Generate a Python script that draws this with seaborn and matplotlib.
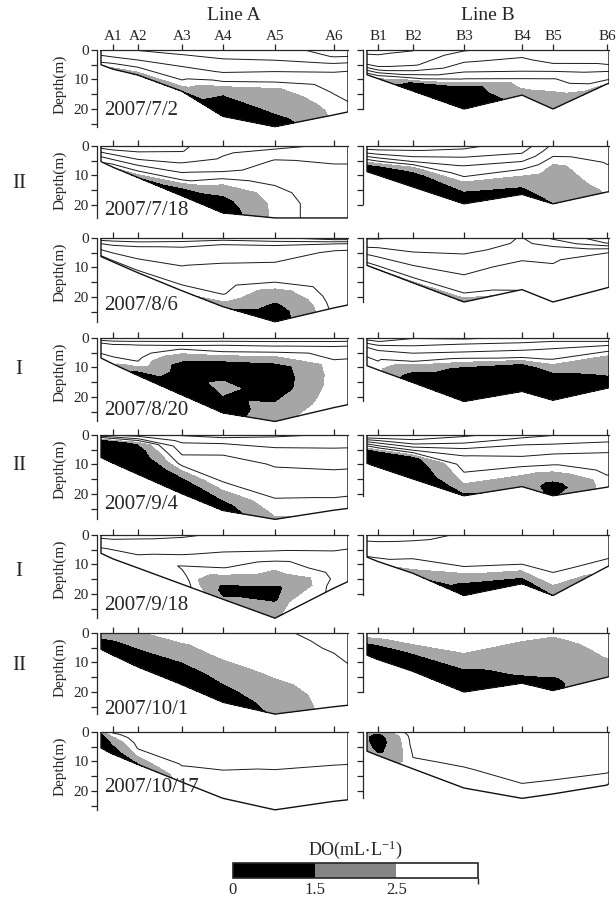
import numpy as np
import matplotlib
matplotlib.use('Agg')
import matplotlib.pyplot as plt
import seaborn as sns
from matplotlib.colors import ListedColormap, BoundaryNorm
from matplotlib.cm import ScalarMappable

dates = ['2007/7/2', '2007/7/18', '2007/8/6', '2007/8/20',
         '2007/9/4', '2007/9/18', '2007/10/1', '2007/10/17']
groups = ['', 'II', '', 'I', 'II', 'I', 'II', '']

names_a = ['A1', 'A2', 'A3', 'A4', 'A5', 'A6']
names_b = ['B1', 'B2', 'B3', 'B4', 'B5', 'B6']
dist_a = [12, 37, 81, 122, 174, 233]
dist_b = [11, 46, 97, 155, 186, 240]
len_a = 247
len_b = 242

# fraction of local water depth for each profile level
sigma = [0, 0.1, 0.2, 0.35, 0.5, 0.65, 0.8, 0.9, 1.0]

# water depth (m): section start, 6 stations, section end
bottom_a = [
    [5.0, 6.5, 8.5, 14.0, 22.5, 26.0, 22.0, 21.0],
    [5.3, 7.2, 10.7, 16.9, 22.7, 24.4, 24.4, 24.4],
    [6.3, 8.1, 11.8, 17.9, 23.3, 28.4, 23.7, 22.7],
    [6.8, 8.8, 12.7, 19.3, 25.4, 28.3, 23.6, 22.6],
    [7.6, 9.5, 13.3, 19.9, 25.6, 28.6, 25.5, 24.9],
    [6.2, 8.1, 11.2, 16.7, 21.8, 28.2, 18.0, 15.8],
    [5.5, 7.5, 11.5, 17.5, 23.5, 27.5, 25.0, 24.5],
    [5.4, 7.5, 11.0, 17.0, 22.5, 26.4, 23.5, 23.0],
]
bottom_b = [
    [8.4, 9.7, 13.9, 20.0, 15.3, 20.0, 11.5, 11.4],
    [8.7, 9.9, 13.9, 19.6, 16.4, 19.6, 15.6, 15.5],
    [9.3, 10.7, 15.2, 21.7, 17.5, 21.7, 16.9, 16.7],
    [9.4, 10.8, 15.1, 21.5, 18.1, 21.1, 17.0, 16.9],
    [9.6, 10.9, 14.9, 20.6, 17.5, 20.6, 17.7, 17.5],
    [7.5, 9.0, 13.0, 20.5, 16.5, 20.5, 10.8, 10.5],
    [7.5, 9.0, 13.0, 20.0, 17.0, 19.5, 15.0, 14.8],
    [6.5, 8.0, 12.5, 19.0, 22.5, 21.0, 18.0, 17.5],
]

# DO profiles (mL/L), surface -> bottom, one per column
a_0702 = [[5.0, 4.8, 4.5, 4.05, 3.5, 3.2, 3.05, 2.8, 2.6],
          [5.05, 4.8, 4.5, 4.05, 3.5, 3.1, 2.8, 2.4, 1.8],
          [5.05, 4.8, 4.6, 4.2, 3.6, 3.1, 2.7, 2.2, 1.4],
          [5.2, 5.05, 4.6, 4.2, 3.6, 3.2, 2.8, 2.2, 1.2],
          [5.5, 5.2, 4.6, 3.95, 2.8, 1.6, 0.95, 0.8, 0.6],
          [5.5, 5.2, 4.6, 3.5, 2.4, 1.95, 1.6, 1.2, 0.8],
          [6.5, 6.05, 5.05, 3.95, 3.3, 3.05, 2.8, 2.7, 2.65],
          [6.5, 6.05, 5.05, 3.95, 3.5, 3.2, 3.05, 2.9, 2.8]]
a_0718 = [[6.5, 6.2, 5.8, 5.2, 4.6, 4.1, 3.7, 3.4, 3.2],
          [6.5, 6.3, 5.95, 5.2, 4.6, 3.95, 3.3, 2.8, 2.3],
          [6.5, 6.3, 5.95, 5.4, 4.6, 3.8, 2.95, 2.3, 1.2],
          [6.2, 6.05, 5.6, 4.95, 4.2, 3.3, 1.8, 0.95, 0.7],
          [5.2, 5.1, 4.9, 4.3, 2.9, 1.95, 1.2, 0.9, 0.7],
          [5.3, 4.6, 3.95, 3.5, 3.1, 2.8, 2.7, 2.7, 2.7],
          [4.8, 4.4, 4.1, 3.8, 3.6, 3.5, 3.4, 3.4, 3.4],
          [4.8, 4.4, 4.1, 3.8, 3.6, 3.5, 3.4, 3.4, 3.4]]
a_0806 = [[7.1, 6.2, 5.5, 4.8, 4.3, 3.95, 3.6, 3.2, 2.8],
          [7.1, 6.2, 5.5, 4.8, 4.3, 3.95, 3.6, 3.2, 2.8],
          [7.1, 6.1, 5.2, 4.6, 4.2, 3.9, 3.5, 3.1, 2.8],
          [6.8, 5.6, 4.8, 4.3, 4.05, 3.8, 3.4, 2.95, 2.7],
          [6.5, 4.95, 4.4, 4.05, 3.6, 3.3, 3.1, 2.6, 1.6],
          [6.8, 4.8, 4.3, 3.8, 3.2, 2.1, 1.3, 0.9, 0.8],
          [7.8, 4.5, 3.9, 3.7, 3.6, 3.5, 3.4, 3.3, 3.2],
          [7.8, 4.5, 3.9, 3.7, 3.6, 3.5, 3.4, 3.3, 3.2]]
a_0820 = [[5.8, 5.2, 4.2, 3.6, 3.4, 3.2, 2.95, 2.9, 2.8],
          [5.8, 5.2, 4.2, 3.6, 3.3, 3.1, 2.9, 2.7, 2.6],
          [5.8, 4.9, 3.9, 3.5, 3.2, 2.95, 2.2, 1.3, 0.9],
          [5.8, 4.5, 2.95, 1.8, 0.95, 0.9, 0.8, 0.8, 0.8],
          [5.8, 3.95, 2.8, 0.95, 1.2, 1.8, 1.4, 0.95, 0.8],
          [5.8, 3.95, 2.6, 0.95, 0.8, 0.9, 1.6, 1.95, 2.3],
          [5.8, 4.2, 3.3, 2.9, 2.8, 2.8, 2.8, 2.8, 2.8],
          [5.8, 4.2, 3.3, 2.9, 2.8, 2.8, 2.8, 2.8, 2.8]]
a_0904 = [[5.1, 3.2, 1.2, 0.8, 0.7, 0.6, 0.6, 0.6, 0.6],
          [5.1, 3.5, 1.4, 0.8, 0.7, 0.6, 0.6, 0.6, 0.6],
          [5.5, 3.95, 1.6, 0.95, 0.8, 0.7, 0.6, 0.6, 0.6],
          [6.1, 5.2, 4.6, 3.95, 3.2, 1.95, 0.95, 0.8, 0.7],
          [6.5, 5.1, 4.4, 3.5, 3.2, 2.95, 1.95, 1.2, 0.9],
          [6.2, 5.3, 4.7, 4.1, 3.6, 3.2, 2.9, 2.7, 2.3],
          [5.9, 5.3, 4.9, 4.3, 3.9, 3.4, 3.05, 2.9, 2.8],
          [5.9, 5.3, 4.9, 4.3, 3.9, 3.4, 3.05, 2.9, 2.8]]
a_0918 = [[5.3, 5.2, 4.95, 4.6, 4.2, 4.05, 3.9, 3.8, 3.7],
          [5.3, 5.2, 4.95, 4.6, 4.2, 3.95, 3.8, 3.7, 3.6],
          [5.2, 5.05, 4.8, 4.5, 4.2, 3.9, 3.6, 3.5, 3.4],
          [5.1, 4.9, 4.6, 4.2, 3.6, 2.9, 3.2, 3.4, 3.4],
          [4.9, 4.7, 4.3, 3.6, 3.05, 2.3, 1.3, 1.2, 1.6],
          [4.8, 4.5, 3.95, 2.7, 2.2, 1.2, 1.4, 2.3, 2.4],
          [4.7, 4.4, 4.2, 3.9, 3.6, 3.3, 3.1, 3.1, 3.1],
          [4.7, 4.4, 4.2, 3.9, 3.6, 3.3, 3.1, 3.1, 3.1]]
a_1001 = [[2.2, 1.95, 1.8, 1.4, 0.95, 0.8, 0.7, 0.6, 0.6],
          [2.3, 2.1, 1.8, 1.4, 0.95, 0.8, 0.7, 0.6, 0.6],
          [2.4, 2.2, 1.95, 1.7, 1.4, 0.95, 0.8, 0.7, 0.6],
          [2.85, 2.7, 2.45, 2.2, 1.7, 1.2, 0.9, 0.8, 0.7],
          [2.9, 2.8, 2.7, 2.55, 2.2, 1.7, 1.3, 0.95, 0.9],
          [2.9, 2.85, 2.8, 2.7, 2.6, 2.3, 1.95, 1.8, 1.6],
          [3.2, 3.1, 3.05, 2.95, 2.9, 2.9, 2.9, 2.9, 2.9],
          [3.3, 3.2, 3.1, 3.05, 2.95, 2.9, 2.9, 2.9, 2.9]]
a_1017 = [[1.95, 1.3, 0.95, 0.8, 0.7, 0.6, 0.6, 0.6, 0.6],
          [3.2, 2.8, 2.4, 1.95, 1.6, 1.3, 0.95, 0.8, 0.7],
          [3.6, 3.5, 3.4, 3.2, 3.05, 2.7, 2.3, 1.7, 1.2],
          [3.8, 3.7, 3.6, 3.4, 3.2, 3.02, 2.9, 2.8, 2.7],
          [3.8, 3.7, 3.6, 3.4, 3.1, 2.9, 2.8, 2.75, 2.7],
          [3.9, 3.8, 3.6, 3.4, 2.95, 2.9, 2.8, 2.75, 2.7],
          [3.9, 3.8, 3.6, 3.3, 2.95, 2.85, 2.8, 2.75, 2.7],
          [3.9, 3.8, 3.6, 3.3, 2.95, 2.85, 2.8, 2.75, 2.7]]

b_0702 = [[7.2, 7.1, 6.95, 6.8, 6.5, 5.5, 4.2, 3.2, 2.6],
          [7.2, 7.1, 6.95, 6.8, 6.5, 5.5, 3.95, 2.95, 2.2],
          [7.05, 6.8, 6.6, 6.2, 5.05, 3.5, 1.2, 0.8, 0.6],
          [6.1, 5.5, 5.05, 4.2, 2.9, 0.8, 0.6, 0.5, 0.5],
          [5.6, 5.2, 4.9, 4.4, 3.9, 2.9, 2.6, 2.2, 1.9],
          [5.8, 5.5, 5.2, 4.1, 2.9, 2.6, 2.2, 1.95, 1.8],
          [5.8, 5.6, 5.4, 5.2, 4.8, 3.9, 3.4, 2.9, 2.3],
          [5.8, 5.6, 5.4, 5.2, 4.8, 3.9, 3.4, 2.9, 2.3]]
b_0718 = [[6.5, 6.2, 5.5, 4.5, 3.2, 1.95, 0.95, 0.8, 0.7],
          [6.5, 6.2, 5.6, 4.5, 3.2, 1.6, 0.9, 0.7, 0.6],
          [6.3, 6.05, 5.4, 4.4, 2.4, 1.3, 0.8, 0.7, 0.6],
          [6.2, 5.8, 4.95, 3.95, 3.2, 2.2, 1.4, 0.9, 0.7],
          [5.6, 5.2, 4.8, 3.8, 2.9, 2.3, 1.7, 1.2, 0.9],
          [3.8, 3.4, 2.9, 2.3, 2.2, 2.1, 1.95, 1.8, 1.4],
          [3.6, 3.4, 3.2, 3.05, 2.9, 2.8, 2.7, 2.6, 2.55],
          [3.6, 3.4, 3.2, 3.05, 2.9, 2.8, 2.7, 2.6, 2.55]]
b_0806 = [[6.1, 5.8, 5.6, 4.95, 4.2, 3.9, 3.6, 2.95, 2.3],
          [6.1, 5.8, 5.5, 4.8, 4.2, 3.9, 3.5, 2.9, 2.2],
          [5.8, 5.6, 5.3, 4.9, 4.3, 3.9, 3.5, 2.9, 2.1],
          [5.5, 5.4, 5.2, 4.6, 4.2, 3.8, 3.3, 2.8, 1.4],
          [4.95, 4.9, 4.7, 4.3, 3.8, 3.5, 3.3, 3.2, 3.1],
          [6.2, 5.2, 4.6, 4.1, 3.8, 3.6, 3.4, 3.3, 3.2],
          [7.6, 7.05, 5.2, 3.4, 3.3, 3.3, 3.2, 3.2, 3.1],
          [7.6, 7.05, 5.2, 3.4, 3.3, 3.3, 3.2, 3.2, 3.1]]
b_0820 = [[6.5, 5.8, 4.95, 3.95, 3.3, 3.05, 2.8, 2.7, 2.6],
          [6.5, 6.05, 5.2, 4.2, 3.5, 3.1, 2.9, 2.7, 2.6],
          [6.05, 5.6, 4.8, 3.95, 3.2, 1.95, 1.3, 0.95, 0.8],
          [6.2, 4.95, 4.2, 2.7, 0.95, 0.8, 0.7, 0.6, 0.5],
          [5.8, 4.9, 4.2, 3.2, 1.2, 0.8, 0.6, 0.5, 0.5],
          [5.6, 4.5, 3.8, 2.95, 1.8, 0.9, 0.7, 0.6, 0.5],
          [6.05, 4.5, 3.5, 2.4, 2.1, 1.8, 1.3, 0.9, 0.8],
          [6.05, 4.5, 3.5, 2.4, 2.1, 1.8, 1.3, 0.9, 0.8]]
b_0904 = [[7.5, 7.05, 5.5, 3.5, 1.2, 0.9, 0.8, 0.7, 0.6],
          [7.5, 7.05, 5.6, 3.8, 1.4, 0.9, 0.8, 0.7, 0.6],
          [7.5, 7.05, 6.05, 3.95, 1.2, 0.8, 0.7, 0.6, 0.6],
          [7.2, 6.4, 5.2, 3.95, 3.3, 2.9, 2.45, 1.8, 1.2],
          [6.5, 5.6, 4.95, 4.3, 3.6, 2.8, 2.4, 2.2, 1.95],
          [6.05, 5.4, 4.6, 3.8, 2.95, 2.2, 1.2, 0.9, 1.3],
          [5.8, 5.2, 4.6, 3.95, 3.4, 3.2, 2.95, 2.9, 2.8],
          [5.8, 5.2, 4.6, 3.95, 3.4, 3.2, 2.95, 2.9, 2.8]]
b_0918 = [[4.5, 4.3, 4.1, 3.9, 3.6, 3.4, 3.2, 3.1, 2.95],
          [4.5, 4.3, 4.1, 3.8, 3.5, 3.3, 3.1, 2.95, 2.9],
          [4.3, 4.1, 3.9, 3.6, 3.2, 2.95, 2.8, 2.4, 1.6],
          [3.9, 3.8, 3.6, 3.4, 3.1, 2.4, 1.4, 1.2, 1.1],
          [3.8, 3.7, 3.6, 3.4, 3.2, 2.9, 1.95, 1.3, 1.2],
          [3.8, 3.7, 3.6, 3.4, 3.2, 2.95, 2.6, 1.95, 1.4],
          [3.8, 3.7, 3.6, 3.4, 3.2, 3.1, 2.95, 2.9, 2.8],
          [3.8, 3.7, 3.6, 3.4, 3.2, 3.1, 2.95, 2.9, 2.8]]
b_1001 = [[2.9, 2.7, 2.4, 1.8, 1.3, 0.95, 0.8, 0.7, 0.6],
          [2.9, 2.7, 2.4, 1.8, 1.3, 0.95, 0.8, 0.7, 0.6],
          [2.95, 2.85, 2.7, 2.3, 1.6, 1.1, 0.8, 0.7, 0.6],
          [2.95, 2.9, 2.8, 2.45, 1.95, 1.3, 0.9, 0.8, 0.7],
          [2.8, 2.6, 2.4, 2.2, 1.95, 1.8, 1.6, 1.3, 1.1],
          [2.6, 2.4, 2.2, 1.95, 1.9, 1.7, 1.4, 1.3, 1.3],
          [2.95, 2.9, 2.8, 2.7, 2.55, 2.4, 2.3, 2.2, 2.2],
          [2.95, 2.9, 2.8, 2.7, 2.55, 2.4, 2.3, 2.2, 2.2]]
b_1017 = [[2.0, 1.7, 1.6, 1.6, 1.6, 1.7, 1.8, 2.0, 2.3],
          [1.8, 1.2, 0.95, 0.9, 0.95, 1.1, 1.2, 1.4, 1.9],
          [3.4, 3.3, 3.25, 3.2, 3.1, 3.02, 2.95, 2.9, 2.85],
          [3.5, 3.45, 3.4, 3.3, 3.1, 2.98, 2.9, 2.85, 2.8],
          [3.5, 3.45, 3.4, 3.3, 3.2, 3.1, 2.98, 2.9, 2.85],
          [3.5, 3.45, 3.4, 3.3, 3.2, 3.1, 2.98, 2.9, 2.85],
          [3.5, 3.45, 3.4, 3.3, 3.2, 3.1, 2.98, 2.9, 2.85],
          [3.5, 3.45, 3.4, 3.3, 3.2, 3.1, 2.98, 2.9, 2.85]]

do_a = [a_0702, a_0718, a_0806, a_0820, a_0904, a_0918, a_1001, a_1017]
do_b = [b_0702, b_0718, b_0806, b_0820, b_0904, b_0918, b_1001, b_1017]

fill_levels = [0, 1.5, 2.5, 20]
line_levels = [3, 4, 5, 6, 7]
fill_colors = ['black', '#a6a6a6', 'white']

sns.set_theme(style='ticks')
plt.rcParams['font.family'] = ['Liberation Serif', 'DejaVu Serif']
plt.rcParams['mathtext.fontset'] = 'stix'
plt.rcParams['axes.linewidth'] = 0.9
plt.rcParams['xtick.major.width'] = 0.9
plt.rcParams['ytick.major.width'] = 0.9
plt.rcParams['ytick.minor.width'] = 0.9

W, H = 616, 901
row_top = [50, 146, 238, 338, 435, 535, 633, 732]
date_y = [0.24, 0.19, 0.16, 0.10, 0.13, 0.12, 0.05, 0.30]
group_y = [0, 183, 0, 369, 466, 572, 665, 0]
ymax = 29
ax_h = 85.5


def section(ax, dist, length, bottom, prof, names, first, left):
    xs = np.array([0] + dist + [length], dtype=float)
    x = np.tile(xs, (len(sigma), 1))
    z = np.outer(sigma, bottom)
    v = np.array(prof).T
    ax.contourf(x, z, v, levels=fill_levels, colors=fill_colors)
    ax.contour(x, z, v, levels=line_levels, colors='#1a1a1a', linewidths=0.7)
    ox = [0] + list(xs) + [length, 0]
    oy = [0] + list(bottom) + [0, 0]
    sns.lineplot(x=ox, y=oy, sort=False, estimator=None, color='#111111',
                 linewidth=1.0, ax=ax)
    ax.set_xlim(-4, length)
    ax.set_ylim(ymax, 0)
    ax.spines['bottom'].set_visible(False)
    ax.spines['right'].set_visible(False)
    ax.spines['top'].set_bounds(0, length)
    ax.spines['left'].set_bounds(0, max(bottom))
    ax.xaxis.tick_top()
    ax.set_xticks(dist)
    ax.set_xticklabels(names if first else [])
    ax.set_yticks([0, 10, 20])
    ax.set_yticks([t for t in [5, 15, 25] if t <= max(bottom)], minor=True)
    ax.set_yticklabels(['0', '10', '20'] if left else [])
    ax.tick_params(axis='x', direction='out', length=4, pad=1, labelsize=11)
    ax.tick_params(axis='y', which='both', direction='out', length=4, pad=2,
                   labelsize=11)
    ax.set_xlabel('')
    ax.set_ylabel('')


fig = plt.figure(figsize=(W / 100, H / 100), dpi=100)

for i in range(8):
    bot = 1 - (row_top[i] + ax_h) / H
    ax_a = fig.add_axes([97 / W, bot, 251 / W, ax_h / H])
    ax_b = fig.add_axes([363 / W, bot, 246 / W, ax_h / H])
    section(ax_a, dist_a, len_a, bottom_a[i], do_a[i], names_a, i == 0, True)
    section(ax_b, dist_b, len_b, bottom_b[i], do_b[i], names_b, i == 0, False)
    ax_a.set_ylabel('Depth(m)', fontsize=11, labelpad=0)
    ax_a.yaxis.set_label_coords(-0.12, 0.6)
    ax_a.text(0.028, date_y[i], dates[i], transform=ax_a.transAxes,
              fontsize=15, va='baseline', ha='left', zorder=10)
    if groups[i]:
        fig.text(19 / W, 1 - group_y[i] / H, groups[i], fontsize=15,
                 ha='center', va='center')

fig.text(234 / W, 1 - 16 / H, 'Line A', fontsize=14, ha='center', va='center')
fig.text(488 / W, 1 - 16 / H, 'Line B', fontsize=14, ha='center', va='center')

cax = fig.add_axes([233 / W, 1 - 878 / H, 245 / W, 15 / H])
sm = ScalarMappable(norm=BoundaryNorm([0, 1.5, 2.5, 3.5], 3),
                    cmap=ListedColormap(['black', '#858585', 'white']))
cb = fig.colorbar(sm, cax=cax, orientation='horizontal', ticks=[0, 1.5, 2.5],
                  spacing='uniform')
cb.outline.set_linewidth(1.2)
cb.ax.tick_params(length=0, labelsize=12, pad=3)
cb.ax.set_xticklabels(['0', '1.5', '2.5'])
fig.text(355 / W, 1 - 850 / H, r'DO(mL$\cdot$L$^{\mathregular{-1}}$)',
         fontsize=13, ha='center', va='center')

fig.savefig('out.png', dpi=100)
